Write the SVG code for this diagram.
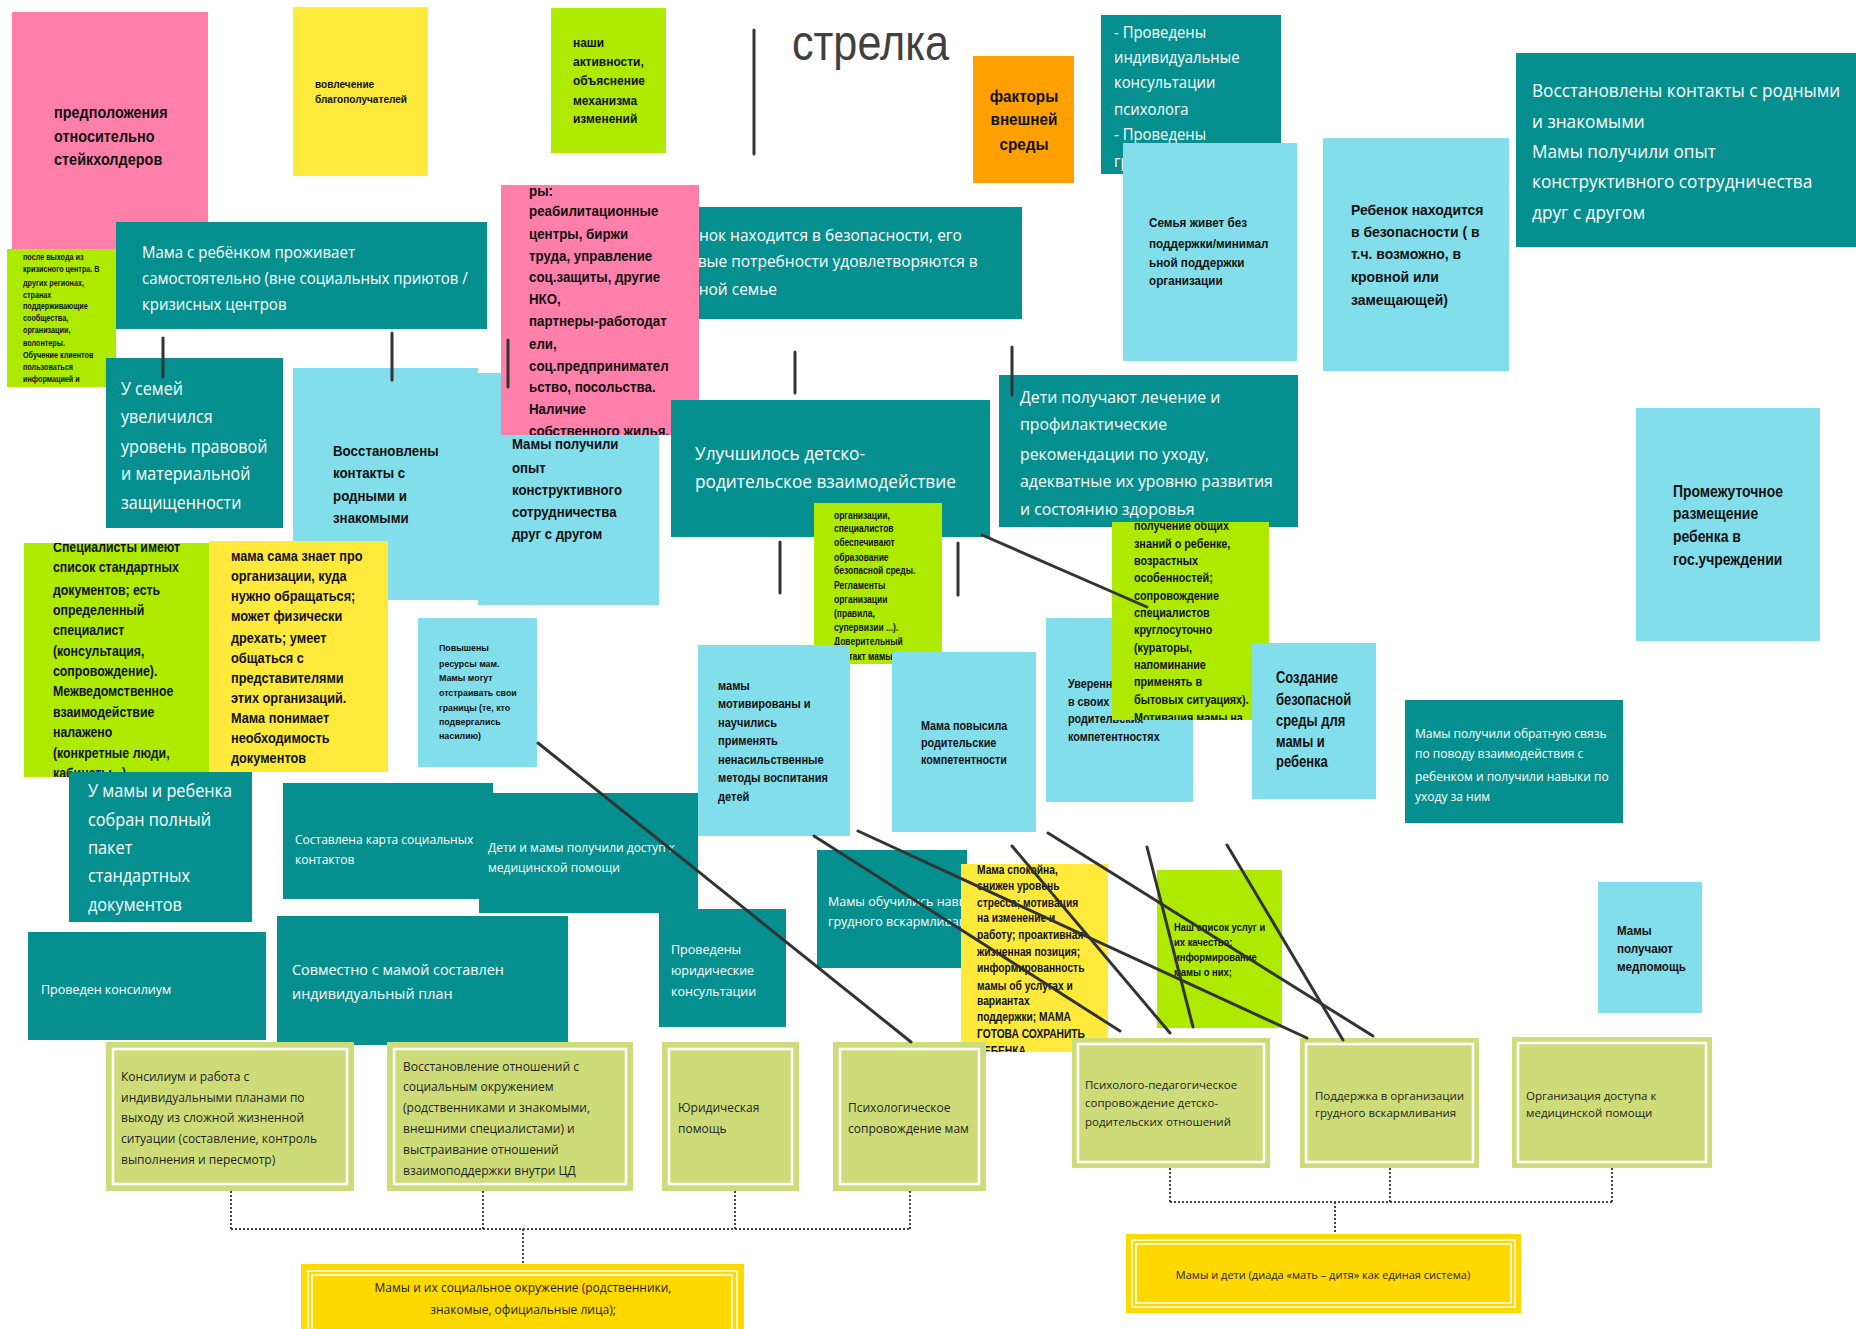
<svg xmlns="http://www.w3.org/2000/svg" width="1856" height="1329" viewBox="0 0 1856 1329">
<style>
.t{fill:#05908f}
.lb{fill:#82deea}
.pk{fill:#fe80aa}
.yl{fill:#ffea3c}
.gr{fill:#aeea00}
.or{fill:#ffa000}
.bx{fill:#cddc79}
.in{fill:none;stroke:#fff;stroke-width:2.5}
.gd{fill:#ffd800}
.gi{fill:none;stroke:#fff;stroke-width:1.5}
.w{font-family:"Open Sans","Liberation Sans",sans-serif;fill:#fff}
.k{font-family:"Liberation Sans",Arial,sans-serif;font-weight:bold;fill:#111}
.b{font-family:"Open Sans","Liberation Sans",sans-serif;fill:#1e1e1e}
.c{stroke:#333;stroke-width:3;fill:none;stroke-linecap:round}
.d{stroke:#444;stroke-width:2;stroke-dasharray:2 2;fill:none}
</style>
<defs>
<clipPath id="cSg"><rect x="7" y="249" width="109" height="138"/></clipPath>
<clipPath id="cPk2"><rect x="501" y="185" width="198" height="250"/></clipPath>
<clipPath id="cOrg"><rect x="814" y="503" width="128" height="161"/></clipPath>
<clipPath id="cSpec"><rect x="24" y="543" width="185" height="234"/></clipPath>
<clipPath id="cPol"><rect x="1112" y="522" width="157" height="198"/></clipPath>
<clipPath id="cSpok"><rect x="961" y="864" width="147" height="188"/></clipPath>
<clipPath id="cG1"><rect x="301" y="1264" width="443" height="65"/></clipPath>
</defs>
<rect width="1856" height="1329" fill="#fff"/>

<g id="n-predpolozheniya">
<rect class="pk" x="12" y="12" width="196" height="238"/>
<text class="k" font-size="17" transform="matrix(.85 0 0 1 8.1 0)"><tspan x="54" y="118">предположения</tspan><tspan x="54" y="142">относительно</tspan><tspan x="54" y="165">стейкхолдеров</tspan></text>
</g>
<g id="n-mama-rebenok">
<rect class="t" x="116" y="222" width="371" height="107"/>
<text class="w" font-size="15.5" transform="matrix(.97 0 0 1 4.26 0)"><tspan x="142" y="258">Мама с ребёнком проживает</tspan><tspan x="142" y="284">самостоятельно (вне социальных приютов /</tspan><tspan x="142" y="310">кризисных центров</tspan></text>
</g>
<g id="n-posle-vyhoda" clip-path="url(#cSg)">
<rect class="gr" x="7" y="249" width="109" height="138"/>
<text class="k" font-size="8.5" transform="matrix(.85 0 0 1 3.45 0)"><tspan x="23" y="260">после выхода из</tspan><tspan x="23" y="272">кризисного центра. В</tspan><tspan x="23" y="286">других регионах,</tspan><tspan x="23" y="298">странах</tspan><tspan x="23" y="309">поддерживающие</tspan><tspan x="23" y="321">сообщества,</tspan><tspan x="23" y="333">организации,</tspan><tspan x="23" y="346">волонтеры.</tspan><tspan x="23" y="358">Обучение клиентов</tspan><tspan x="23" y="370">пользоваться</tspan><tspan x="23" y="382">информацией и</tspan></text>
</g>
<g id="n-vovlechenie">
<rect class="yl" x="293" y="7" width="135" height="169"/>
<text class="k" font-size="10.5" transform="matrix(.96 0 0 1 12.6 0)"><tspan x="315" y="88">вовлечение</tspan><tspan x="315" y="103">благополучателей</tspan></text>
</g>
<g id="n-nashi">
<rect class="gr" x="551" y="8" width="115" height="145"/>
<text class="k" font-size="13" transform="matrix(.92 0 0 1 45.84 0)"><tspan x="573" y="47">наши</tspan><tspan x="573" y="66">активности,</tspan><tspan x="573" y="85">объяснение</tspan><tspan x="573" y="105">механизма</tspan><tspan x="573" y="123">изменений</tspan></text>
</g>
<g id="n-strelka">
<text x="792" y="60" font-family="'Liberation Sans',Arial,sans-serif" font-size="50" fill="#404040" textLength="157" lengthAdjust="spacingAndGlyphs">стрелка</text>
</g>
<g id="n-faktory">
<rect class="or" x="973" y="56" width="101" height="127"/>
<text class="k" font-size="17" text-anchor="middle" transform="matrix(.9 0 0 1 102.4 0)"><tspan x="1024" y="102">факторы</tspan><tspan x="1024" y="125">внешней</tspan><tspan x="1024" y="150">среды</tspan></text>
</g>
<g id="n-provedeny-psiholog">
<rect class="t" x="1101" y="15" width="180" height="159"/>
<text class="w" font-size="16" transform="matrix(.93 0 0 1 77.98 0)"><tspan x="1114" y="38">- Проведены</tspan><tspan x="1114" y="63">индивидуальные</tspan><tspan x="1114" y="88">консультации</tspan><tspan x="1114" y="115">психолога</tspan><tspan x="1114" y="140">- Проведены</tspan><tspan x="1114" y="167">гр</tspan></text>
</g>
<g id="n-semya">
<rect class="lb" x="1123" y="143" width="174" height="218"/>
<text class="k" font-size="13" transform="matrix(.9 0 0 1 114.9 0)"><tspan x="1149" y="227">Семья живет без</tspan><tspan x="1149" y="248">поддержки/минимал</tspan><tspan x="1149" y="267">ьной поддержки</tspan><tspan x="1149" y="285">организации</tspan></text>
</g>
<g id="n-rebenok-bezop">
<rect class="lb" x="1323" y="138" width="186" height="233"/>
<text class="k" font-size="15" transform="matrix(.93 0 0 1 94.57 0)"><tspan x="1351" y="215">Ребенок находится</tspan><tspan x="1351" y="237">в безопасности ( в</tspan><tspan x="1351" y="259">т.ч. возможно, в</tspan><tspan x="1351" y="282">кровной или</tspan><tspan x="1351" y="305">замещающей)</tspan></text>
</g>
<g id="n-vosst-right">
<rect class="t" x="1516" y="53" width="340" height="194"/>
<text class="w" font-size="18.5" transform="matrix(.93 0 0 1 107.24 0)"><tspan x="1532" y="97">Восстановлены контакты с родными</tspan><tspan x="1532" y="128">и знакомыми</tspan><tspan x="1532" y="158">Мамы получили опыт</tspan><tspan x="1532" y="188">конструктивного сотрудничества</tspan><tspan x="1532" y="219">друг с другом</tspan></text>
</g>
<g id="n-rebenok-semya">
<rect class="t" x="650" y="207" width="372" height="112"/>
<text class="w" font-size="15.5"><tspan x="663" y="241">Ребенок находится в безопасности, его</tspan><tspan x="663" y="267">базовые потребности удовлетворяются в</tspan><tspan x="663" y="295">кровной семье</tspan></text>
</g>
<g id="n-u-semey">
<rect class="t" x="106" y="358" width="177" height="170"/>
<text class="w" font-size="18.5" transform="matrix(.87 0 0 1 15.73 0)"><tspan x="121" y="395">У семей</tspan><tspan x="121" y="423">увеличился</tspan><tspan x="121" y="453">уровень правовой</tspan><tspan x="121" y="480">и материальной</tspan><tspan x="121" y="509">защищенности</tspan></text>
</g>
<g id="n-vosst-left">
<rect class="lb" x="293" y="368" width="185" height="232"/>
<text class="k" font-size="15.5" transform="matrix(.86 0 0 1 46.62 0)"><tspan x="333" y="456">Восстановлены</tspan><tspan x="333" y="478">контакты с</tspan><tspan x="333" y="501">родными и</tspan><tspan x="333" y="523">знакомыми</tspan></text>
</g>
<g id="n-mamy-opyt">
<rect class="lb" x="478" y="373" width="181" height="232"/>
<text class="k" font-size="15.5" transform="matrix(.85 0 0 1 76.8 0)"><tspan x="512" y="449">Мамы получили</tspan><tspan x="512" y="473">опыт</tspan><tspan x="512" y="495">конструктивного</tspan><tspan x="512" y="517">сотрудничества</tspan><tspan x="512" y="539">друг с другом</tspan></text>
</g>
<g id="n-partnery" clip-path="url(#cPk2)">
<rect class="pk" x="501" y="185" width="198" height="250"/>
<text class="k" font-size="14.5" transform="matrix(.92 0 0 1 42.32 0)"><tspan x="529" y="196">ры:</tspan><tspan x="529" y="216">реабилитационные</tspan><tspan x="529" y="239">центры, биржи</tspan><tspan x="529" y="261">труда, управление</tspan><tspan x="529" y="282">соц.защиты, другие</tspan><tspan x="529" y="304">НКО,</tspan><tspan x="529" y="326">партнеры-работодат</tspan><tspan x="529" y="349">ели,</tspan><tspan x="529" y="371">соц.предпринимател</tspan><tspan x="529" y="392">ьство, посольства.</tspan><tspan x="529" y="414">Наличие</tspan><tspan x="529" y="436">собственного жилья.</tspan></text>
</g>
<g id="n-uluchshilos">
<rect class="t" x="671" y="400" width="319" height="137"/>
<text class="w" font-size="18" transform="matrix(.96 0 0 1 27.8 0)"><tspan x="695" y="460">Улучшилось детско-</tspan><tspan x="695" y="488">родительское взаимодействие</tspan></text>
</g>
<g id="n-deti-lechenie">
<rect class="t" x="999" y="375" width="299" height="152"/>
<text class="w" font-size="16.5" transform="matrix(.96 0 0 1 40.8 0)"><tspan x="1020" y="403">Дети получают лечение и</tspan><tspan x="1020" y="430">профилактические</tspan><tspan x="1020" y="460">рекомендации по уходу,</tspan><tspan x="1020" y="487">адекватные их уровню развития</tspan><tspan x="1020" y="515">и состоянию здоровья</tspan></text>
</g>
<g id="n-promezhutochnoe">
<rect class="lb" x="1636" y="408" width="184" height="233"/>
<text class="k" font-size="16" transform="matrix(.87 0 0 1 217.49 0)"><tspan x="1673" y="497">Промежуточное</tspan><tspan x="1673" y="519">размещение</tspan><tspan x="1673" y="542">ребенка в</tspan><tspan x="1673" y="565">гос.учреждении</tspan></text>
</g>
<g id="n-organizacii" clip-path="url(#cOrg)">
<rect class="gr" x="814" y="503" width="128" height="161"/>
<text class="k" font-size="10.5" transform="matrix(.81 0 0 1 158.46 0)"><tspan x="834" y="519">организации,</tspan><tspan x="834" y="532">специалистов</tspan><tspan x="834" y="546">обеспечивают</tspan><tspan x="834" y="561">образование</tspan><tspan x="834" y="574">безопасной среды.</tspan><tspan x="834" y="589">Регламенты</tspan><tspan x="834" y="603">организации</tspan><tspan x="834" y="617">(правила,</tspan><tspan x="834" y="631">супервизии ...).</tspan><tspan x="834" y="645">Доверительный</tspan><tspan x="834" y="660">контакт мамы и</tspan></text>
</g>
<g id="n-specialisty" clip-path="url(#cSpec)">
<rect class="gr" x="24" y="543" width="185" height="234"/>
<text class="k" font-size="14.5" transform="matrix(.85 0 0 1 7.95 0)"><tspan x="53" y="552">Специалисты имеют</tspan><tspan x="53" y="572">список стандартных</tspan><tspan x="53" y="595">документов; есть</tspan><tspan x="53" y="615">определенный</tspan><tspan x="53" y="635">специалист</tspan><tspan x="53" y="656">(консультация,</tspan><tspan x="53" y="676">сопровождение).</tspan><tspan x="53" y="696">Межведомственное</tspan><tspan x="53" y="717">взаимодействие</tspan><tspan x="53" y="737">налажено</tspan><tspan x="53" y="758">(конкретные люди,</tspan><tspan x="53" y="778">кабинеты...)</tspan></text>
</g>
<g id="n-mama-znaet">
<rect class="yl" x="209" y="541" width="179" height="231"/>
<text class="k" font-size="14.5" transform="matrix(.88 0 0 1 27.72 0)"><tspan x="231" y="561">мама сама знает про</tspan><tspan x="231" y="581">организации, куда</tspan><tspan x="231" y="601">нужно обращаться;</tspan><tspan x="231" y="621">может физически</tspan><tspan x="231" y="643">дрехать; умеет</tspan><tspan x="231" y="663">общаться с</tspan><tspan x="231" y="683">представителями</tspan><tspan x="231" y="703">этих организаций.</tspan><tspan x="231" y="723">Мама понимает</tspan><tspan x="231" y="743">необходимость</tspan><tspan x="231" y="763">документов</tspan></text>
</g>
<g id="n-povysheny">
<rect class="lb" x="418" y="618" width="119" height="149"/>
<text class="k" font-size="9.5" transform="matrix(.93 0 0 1 30.73 0)"><tspan x="439" y="651">Повышены</tspan><tspan x="439" y="667">ресурсы мам.</tspan><tspan x="439" y="681">Мамы могут</tspan><tspan x="439" y="696">отстраивать свои</tspan><tspan x="439" y="711">границы (те, кто</tspan><tspan x="439" y="725">подвергались</tspan><tspan x="439" y="739">насилию)</tspan></text>
</g>
<g id="n-motivirovany">
<rect class="lb" x="698" y="645" width="152" height="191"/>
<text class="k" font-size="13.5" transform="matrix(.82 0 0 1 129.24 0)"><tspan x="718" y="690">мамы</tspan><tspan x="718" y="708">мотивированы и</tspan><tspan x="718" y="727">научились</tspan><tspan x="718" y="745">применять</tspan><tspan x="718" y="764">ненасильственные</tspan><tspan x="718" y="782">методы воспитания</tspan><tspan x="718" y="801">детей</tspan></text>
</g>
<g id="n-povysila">
<rect class="lb" x="892" y="652" width="144" height="180"/>
<text class="k" font-size="13" transform="matrix(.83 0 0 1 156.57 0)"><tspan x="921" y="730">Мама повысила</tspan><tspan x="921" y="747">родительские</tspan><tspan x="921" y="764">компетентности</tspan></text>
</g>
<g id="n-uverennost">
<rect class="lb" x="1046" y="618" width="147" height="184"/>
<text class="k" font-size="13" transform="matrix(.83 0 0 1 181.56 0)"><tspan x="1068" y="688">Уверенность</tspan><tspan x="1068" y="706">в своих</tspan><tspan x="1068" y="723">родительских</tspan><tspan x="1068" y="741">компетентностях</tspan></text>
</g>
<g id="n-poluchenie" clip-path="url(#cPol)">
<rect class="gr" x="1112" y="522" width="157" height="198"/>
<text class="k" font-size="13.5" transform="matrix(.8 0 0 1 226.8 0)"><tspan x="1134" y="530">получение общих</tspan><tspan x="1134" y="548">знаний о ребенке,</tspan><tspan x="1134" y="565">возрастных</tspan><tspan x="1134" y="582">особенностей;</tspan><tspan x="1134" y="600">сопровождение</tspan><tspan x="1134" y="617">специалистов</tspan><tspan x="1134" y="634">круглосуточно</tspan><tspan x="1134" y="652">(кураторы,</tspan><tspan x="1134" y="669">напоминание</tspan><tspan x="1134" y="686">применять в</tspan><tspan x="1134" y="704">бытовых ситуациях).</tspan><tspan x="1134" y="722">Мотивация мамы на</tspan></text>
</g>
<g id="n-sozdanie">
<rect class="lb" x="1252" y="643" width="124" height="156"/>
<text class="k" font-size="16" transform="matrix(.81 0 0 1 242.44 0)"><tspan x="1276" y="683">Создание</tspan><tspan x="1276" y="705">безопасной</tspan><tspan x="1276" y="726">среды для</tspan><tspan x="1276" y="747">мамы и</tspan><tspan x="1276" y="767">ребенка</tspan></text>
</g>
<g id="n-obratnaya-svyaz">
<rect class="t" x="1405" y="700" width="218" height="123"/>
<text class="w" font-size="12"><tspan x="1415" y="738">Мамы получили обратную связь</tspan><tspan x="1415" y="758">по поводу взаимодействия с</tspan><tspan x="1415" y="781">ребенком и получили навыки по</tspan><tspan x="1415" y="801">уходу за ним</tspan></text>
</g>
<g id="n-paket">
<rect class="t" x="69" y="772" width="183" height="150"/>
<text class="w" font-size="18.5" transform="matrix(.88 0 0 1 10.56 0)"><tspan x="88" y="797">У мамы и ребенка</tspan><tspan x="88" y="826">собран полный</tspan><tspan x="88" y="854">пакет</tspan><tspan x="88" y="882">стандартных</tspan><tspan x="88" y="911">документов</tspan></text>
</g>
<g id="n-karta">
<rect class="t" x="283" y="783" width="210" height="116"/>
<text class="w" font-size="12"><tspan x="295" y="844">Составлена карта социальных</tspan><tspan x="295" y="864">контактов</tspan></text>
</g>
<g id="n-dostup-med">
<rect class="t" x="479" y="793" width="219" height="120"/>
<text class="w" font-size="12"><tspan x="488" y="852">Дети и мамы получили доступ к</tspan><tspan x="488" y="872">медицинской помощи</tspan></text>
</g>
<g id="n-konsilium">
<rect class="t" x="28" y="932" width="238" height="108"/>
<text class="w" font-size="12.5" x="41" y="994">Проведен консилиум</text>
</g>
<g id="n-plan">
<rect class="t" x="277" y="916" width="291" height="129"/>
<text class="w" font-size="15" transform="matrix(.96 0 0 1 11.68 0)"><tspan x="292" y="975">Совместно с мамой составлен</tspan><tspan x="292" y="999">индивидуальный план</tspan></text>
</g>
<g id="n-yur-konsult">
<rect class="t" x="659" y="909" width="127" height="118"/>
<text class="w" font-size="12.5"><tspan x="671" y="954">Проведены</tspan><tspan x="671" y="975">юридические</tspan><tspan x="671" y="996">консультации</tspan></text>
</g>
<g id="n-gv-navyk">
<rect class="t" x="817" y="850" width="150" height="118"/>
<text class="w" font-size="12.5"><tspan x="828" y="906">Мамы обучились навыкам</tspan><tspan x="828" y="926">грудного вскармливания</tspan></text>
</g>
<g id="n-spokoyna" clip-path="url(#cSpok)">
<rect class="yl" x="961" y="864" width="147" height="188"/>
<text class="k" font-size="12.5" transform="matrix(.82 0 0 1 175.86 0)"><tspan x="977" y="874">Мама спокойна,</tspan><tspan x="977" y="890">снижен уровень</tspan><tspan x="977" y="907">стресса; мотивация</tspan><tspan x="977" y="922">на изменение и</tspan><tspan x="977" y="939">работу; проактивная</tspan><tspan x="977" y="956">жизненная позиция;</tspan><tspan x="977" y="972">информированность</tspan><tspan x="977" y="990">мамы об услугах и</tspan><tspan x="977" y="1005">вариантах</tspan><tspan x="977" y="1021">поддержки; МАМА</tspan><tspan x="977" y="1038">ГОТОВА СОХРАНИТЬ</tspan><tspan x="977" y="1055">РЕБЕНКА</tspan></text>
</g>
<g id="n-spisok-uslug">
<rect class="gr" x="1157" y="870" width="125" height="158"/>
<text class="k" font-size="11.5" font-weight="normal" transform="matrix(.82 0 0 1 211.32 0)"><tspan x="1174" y="931">Наш список услуг и</tspan><tspan x="1174" y="946">их качество;</tspan><tspan x="1174" y="961">информирование</tspan><tspan x="1174" y="976">мамы о них;</tspan></text>
</g>
<g id="n-medpomosch">
<rect class="lb" x="1598" y="882" width="104" height="131"/>
<text class="k" font-size="12.5" transform="matrix(.93 0 0 1 113.19 0)"><tspan x="1617" y="935">Мамы</tspan><tspan x="1617" y="953">получают</tspan><tspan x="1617" y="971">медпомощь</tspan></text>
</g>

<g id="n-b1">
<rect class="bx" x="106" y="1042" width="248" height="149"/><rect class="in" x="113" y="1049" width="234" height="135"/>
<text class="b" font-size="12"><tspan x="121" y="1081">Консилиум и работа с</tspan><tspan x="121" y="1102">индивидуальными планами по</tspan><tspan x="121" y="1122">выходу из сложной жизненной</tspan><tspan x="121" y="1143">ситуации (составление, контроль</tspan><tspan x="121" y="1164">выполнения и пересмотр)</tspan></text>
</g>
<g id="n-b2">
<rect class="bx" x="387" y="1042" width="246" height="149"/><rect class="in" x="394" y="1049" width="232" height="135"/>
<text class="b" font-size="12"><tspan x="403" y="1071">Восстановление отношений с</tspan><tspan x="403" y="1091">социальным окружением</tspan><tspan x="403" y="1112">(родственниками и знакомыми,</tspan><tspan x="403" y="1133">внешними специалистами) и</tspan><tspan x="403" y="1154">выстраивание отношений</tspan><tspan x="403" y="1175">взаимоподдержки внутри ЦД</tspan></text>
</g>
<g id="n-b3">
<rect class="bx" x="662" y="1042" width="137" height="149"/><rect class="in" x="669" y="1049" width="123" height="135"/>
<text class="b" font-size="12"><tspan x="678" y="1112">Юридическая</tspan><tspan x="678" y="1133">помощь</tspan></text>
</g>
<g id="n-b4">
<rect class="bx" x="833" y="1042" width="153" height="149"/><rect class="in" x="840" y="1049" width="139" height="135"/>
<text class="b" font-size="12"><tspan x="848" y="1112">Психологическое</tspan><tspan x="848" y="1133">сопровождение мам</tspan></text>
</g>
<g id="n-b5">
<rect class="bx" x="1072" y="1038" width="198" height="130"/><rect class="in" x="1078" y="1044" width="186" height="118"/>
<text class="b" font-size="11.5"><tspan x="1085" y="1089">Психолого-педагогическое</tspan><tspan x="1085" y="1107">сопровождение детско-</tspan><tspan x="1085" y="1126">родительских отношений</tspan></text>
</g>
<g id="n-b6">
<rect class="bx" x="1300" y="1038" width="179" height="130"/><rect class="in" x="1306" y="1044" width="167" height="118"/>
<text class="b" font-size="11.5"><tspan x="1315" y="1100">Поддержка в организации</tspan><tspan x="1315" y="1117">грудного вскармливания</tspan></text>
</g>
<g id="n-b7">
<rect class="bx" x="1512" y="1037" width="200" height="131"/><rect class="in" x="1518" y="1043" width="188" height="119"/>
<text class="b" font-size="11.5"><tspan x="1526" y="1100">Организация доступа к</tspan><tspan x="1526" y="1117">медицинской помощи</tspan></text>
</g>
<g id="n-g1" clip-path="url(#cG1)">
<rect class="gd" x="301" y="1264" width="443" height="80"/>
<rect class="gi" x="308" y="1271" width="429" height="80"/><rect class="gi" x="312" y="1275" width="420" height="80"/>
<text class="b" font-size="12" text-anchor="middle"><tspan x="523" y="1292">Мамы и их социальное окружение (родственники,</tspan><tspan x="523" y="1314">знакомые, официальные лица);</tspan></text>
</g>
<g id="n-g2">
<rect class="gd" x="1126" y="1234" width="395" height="79"/>
<rect class="gi" x="1132" y="1240" width="383" height="67"/><rect class="gi" x="1136" y="1244" width="375" height="59"/>
<text class="b" font-size="11" text-anchor="middle" x="1323" y="1279">Мамы и дети (диада «мать – дитя» как единая система)</text>
</g>

<g id="connectors">
<line class="c" x1="754" y1="30" x2="754" y2="154"/>
<line class="c" x1="163" y1="338" x2="163" y2="377"/>
<line class="c" x1="392" y1="333" x2="392" y2="380"/>
<line class="c" x1="508" y1="340" x2="508" y2="387"/>
<line class="c" x1="795" y1="352" x2="795" y2="393"/>
<line class="c" x1="1012" y1="347" x2="1012" y2="395"/>
<line class="c" x1="780" y1="542" x2="780" y2="593"/>
<line class="c" x1="958" y1="543" x2="958" y2="595"/>
<line class="c" x1="982" y1="535" x2="1147" y2="607"/>
<line class="c" x1="538" y1="743" x2="911" y2="1042"/>
<line class="c" x1="814" y1="836" x2="1120" y2="1031"/>
<line class="c" x1="858" y1="831" x2="1307" y2="1038"/>
<line class="c" x1="1012" y1="846" x2="1170" y2="1033"/>
<line class="c" x1="1048" y1="833" x2="1373" y2="1036"/>
<line class="c" x1="1147" y1="847" x2="1193" y2="1027"/>
<line class="c" x1="1227" y1="845" x2="1343" y2="1040"/>
<path class="d" d="M231 1191V1229M483 1191V1229M735 1191V1229M910 1191V1229M231 1229H910M523 1229V1264"/>
<path class="d" d="M1170 1168V1202M1390 1168V1202M1612 1168V1202M1170 1202H1612M1335 1202V1234"/>
</g>
</svg>
